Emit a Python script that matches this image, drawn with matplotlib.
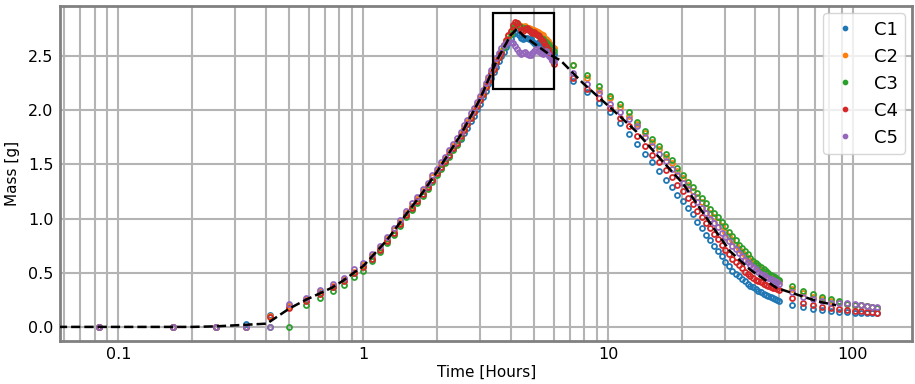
import matplotlib
matplotlib.use("Agg")
import matplotlib.pyplot as plt
from matplotlib.patches import Rectangle
from matplotlib.ticker import FuncFormatter

# sampling times: every 5 min for the first 6 h, then hourly, then ~6-hourly
minutes_early = [5, 10, 15, 20, 25, 30, 35, 40, 45, 50, 55, 60,
                 65, 70, 75, 80, 85, 90, 95, 100, 105, 110, 115, 120,
                 125, 130, 135, 140, 145, 150, 155, 160, 165, 170, 175, 180,
                 185, 190, 195, 200, 205, 210, 215, 220, 225, 230, 235, 240,
                 245, 250, 255, 260, 265, 270, 275, 280, 285, 290, 295, 300,
                 305, 310, 315, 320, 325, 330, 335, 340, 345, 350, 355, 360]
hours_mid = [7.2, 8.2, 9.2, 10.2, 11.2, 12.2, 13.2, 14.2, 15.2, 16.2, 17.2,
             18.2, 19.2, 20.2, 21.2, 22.2, 23.2, 24.2, 25.2, 26.2, 27.2, 28.2,
             29.2, 30.2, 31.2, 32.2, 33.2, 34.2, 35.2, 36.2, 37.2, 38.2, 39.2,
             40.2, 41.2, 42.2, 43.2, 44.2, 45.2, 46.2, 47.2, 48.2, 49.2, 50.2]
hours_late = [56.7, 62.7, 68.9, 75.2, 81.3, 87.7, 94.8, 101.9, 107.8, 114.1,
              120.0, 125.7]

time_h = [m / 60 for m in minutes_early] + hours_mid + hours_late

# mass [g] per sample, three parts each: first 6 h / hourly / late
c1 = ([0, 0, 0, 0.03, 0.11, 0.19, 0.25, 0.31, 0.37, 0.43, 0.50,
       0.56, 0.63, 0.71, 0.79, 0.87, 0.95, 1.03, 1.10, 1.16, 1.23, 1.29, 1.36,
       1.42, 1.47, 1.52, 1.58, 1.64, 1.69, 1.73, 1.79, 1.84, 1.90, 1.95, 2.01,
       2.06, 2.12, 2.18, 2.24, 2.30, 2.35, 2.40, 2.45, 2.50, 2.54, 2.58, 2.62,
       2.66, 2.70, 2.72, 2.71, 2.69, 2.67, 2.66, 2.67, 2.67, 2.66, 2.66, 2.64,
       2.62, 2.61, 2.62, 2.63, 2.62, 2.61, 2.60, 2.58, 2.57, 2.55, 2.54, 2.53,
       2.52]
      + [2.27, 2.17, 2.07, 1.98, 1.88, 1.78, 1.69, 1.60, 1.52, 1.44, 1.36,
         1.29, 1.22, 1.16, 1.10, 1.04, 0.97, 0.91, 0.85, 0.80, 0.75, 0.70,
         0.65, 0.60, 0.56, 0.52, 0.49, 0.47, 0.44, 0.42, 0.40, 0.38, 0.365,
         0.35, 0.335, 0.32, 0.305, 0.295, 0.285, 0.275, 0.265, 0.255, 0.245,
         0.24]
      + [0.203, 0.18, 0.166, 0.157, 0.147, 0.14, 0.135, 0.132, 0.13, 0.128,
         0.127, 0.125])

c2 = ([0, 0, 0, 0, 0.10, 0.19, 0.26, 0.33, 0.38, 0.44, 0.51,
       0.57, 0.65, 0.73, 0.81, 0.89, 0.97, 1.05, 1.12, 1.18, 1.25, 1.31, 1.38,
       1.44, 1.50, 1.55, 1.61, 1.67, 1.72, 1.78, 1.84, 1.89, 1.95, 2.00, 2.06,
       2.11, 2.17, 2.23, 2.29, 2.35, 2.40, 2.46, 2.51, 2.55, 2.60, 2.64, 2.68,
       2.72, 2.77, 2.79, 2.80, 2.79, 2.78, 2.77, 2.78, 2.76, 2.76, 2.75, 2.74,
       2.74, 2.73, 2.72, 2.71, 2.70, 2.69, 2.67, 2.66, 2.64, 2.62, 2.60, 2.58,
       2.57]
      + [2.42, 2.30, 2.19, 2.11, 2.03, 1.95, 1.87, 1.79, 1.71, 1.64, 1.57,
         1.51, 1.44, 1.37, 1.31, 1.25, 1.20, 1.15, 1.10, 1.05, 1.01, 0.97,
         0.93, 0.88, 0.84, 0.80, 0.76, 0.72, 0.69, 0.66, 0.63, 0.61, 0.59,
         0.57, 0.55, 0.53, 0.51, 0.50, 0.48, 0.47, 0.45, 0.44, 0.43, 0.42]
      + [0.35, 0.31, 0.28, 0.255, 0.24, 0.23, 0.215, 0.205, 0.198, 0.19,
         0.183, 0.177])

c3 = ([0, 0, 0, 0, 0, 0, 0.20, 0.27, 0.33, 0.39, 0.46,
       0.52, 0.61, 0.69, 0.77, 0.85, 0.93, 1.01, 1.08, 1.14, 1.21, 1.27, 1.34,
       1.40, 1.46, 1.51, 1.57, 1.63, 1.68, 1.74, 1.82, 1.87, 1.93, 1.98, 2.04,
       2.09, 2.15, 2.21, 2.27, 2.33, 2.38, 2.44, 2.49, 2.53, 2.58, 2.62, 2.66,
       2.70, 2.76, 2.79, 2.80, 2.78, 2.77, 2.76, 2.76, 2.75, 2.74, 2.73, 2.72,
       2.71, 2.70, 2.69, 2.68, 2.67, 2.66, 2.64, 2.63, 2.61, 2.59, 2.57, 2.56,
       2.55]
      + [2.42, 2.32, 2.22, 2.13, 2.06, 1.98, 1.89, 1.81, 1.73, 1.67, 1.60,
         1.54, 1.47, 1.40, 1.34, 1.29, 1.24, 1.19, 1.14, 1.09, 1.05, 1.01,
         0.97, 0.93, 0.88, 0.84, 0.80, 0.76, 0.73, 0.70, 0.67, 0.64, 0.61,
         0.59, 0.57, 0.55, 0.53, 0.52, 0.50, 0.48, 0.47, 0.46, 0.445, 0.43]
      + [0.38, 0.335, 0.30, 0.275, 0.255, 0.24, 0.215, 0.205, 0.198, 0.19,
         0.183, 0.177])

c4 = ([0, 0, 0, 0, 0.09, 0.17, 0.24, 0.30, 0.37, 0.42, 0.50,
       0.55, 0.63, 0.71, 0.79, 0.87, 0.95, 1.03, 1.10, 1.16, 1.23, 1.29, 1.36,
       1.42, 1.48, 1.53, 1.59, 1.65, 1.70, 1.76, 1.82, 1.87, 1.93, 1.98, 2.04,
       2.09, 2.15, 2.21, 2.27, 2.33, 2.38, 2.44, 2.49, 2.53, 2.60, 2.65, 2.69,
       2.73, 2.79, 2.81, 2.80, 2.78, 2.74, 2.73, 2.75, 2.76, 2.74, 2.72, 2.71,
       2.72, 2.70, 2.69, 2.68, 2.66, 2.64, 2.62, 2.59, 2.56, 2.53, 2.50, 2.46,
       2.43]
      + [2.30, 2.20, 2.11, 2.02, 1.93, 1.85, 1.76, 1.67, 1.59, 1.52, 1.45,
         1.38, 1.31, 1.25, 1.19, 1.13, 1.07, 1.01, 0.96, 0.91, 0.86, 0.81,
         0.76, 0.71, 0.67, 0.63, 0.60, 0.57, 0.54, 0.51, 0.49, 0.47, 0.45,
         0.43, 0.42, 0.41, 0.40, 0.39, 0.38, 0.37, 0.36, 0.355, 0.35, 0.34]
      + [0.265, 0.224, 0.203, 0.18, 0.17, 0.163, 0.157, 0.15, 0.147, 0.14,
         0.138, 0.132])

c5 = ([0, 0, 0, 0, 0, 0.21, 0.27, 0.34, 0.40, 0.45, 0.53,
       0.59, 0.67, 0.75, 0.83, 0.91, 0.99, 1.07, 1.14, 1.20, 1.27, 1.33, 1.40,
       1.46, 1.52, 1.57, 1.63, 1.69, 1.74, 1.80, 1.86, 1.91, 1.97, 2.02, 2.08,
       2.13, 2.19, 2.25, 2.31, 2.37, 2.42, 2.48, 2.53, 2.57, 2.60, 2.62, 2.63,
       2.63, 2.62, 2.59, 2.56, 2.54, 2.52, 2.53, 2.54, 2.52, 2.51, 2.51, 2.53,
       2.55, 2.56, 2.55, 2.56, 2.53, 2.52, 2.54, 2.55, 2.52, 2.50, 2.48, 2.46,
       2.45]
      + [2.34, 2.24, 2.16, 2.06, 1.98, 1.92, 1.85, 1.75, 1.67, 1.60, 1.53,
         1.46, 1.40, 1.33, 1.27, 1.21, 1.15, 1.10, 1.05, 1.00, 0.96, 0.92,
         0.87, 0.83, 0.79, 0.75, 0.72, 0.68, 0.65, 0.62, 0.60, 0.57, 0.55,
         0.53, 0.51, 0.49, 0.48, 0.46, 0.45, 0.44, 0.43, 0.42, 0.41, 0.40]
      + [0.32, 0.28, 0.255, 0.235, 0.225, 0.22, 0.219, 0.21, 0.203, 0.197,
         0.187, 0.18])

# dashed reference curve
fit_t = [0.05, 0.2, 0.25, 0.333, 0.404, 0.423, 0.5, 0.583, 0.667, 0.75,
         0.833, 0.917, 1.0, 1.25, 1.5, 1.75, 2.0, 2.5, 3.0, 3.5, 4.0, 4.24,
         4.5, 5.1, 5.8, 6.4, 7.9, 10.5, 13.1, 15.8, 20.3, 26.1, 31.5, 38.0,
         48.8, 62.7, 72.0, 85.5]
fit_m = [0.0, 0.0, 0.005, 0.02, 0.03, 0.06, 0.17, 0.25, 0.31, 0.365,
         0.43, 0.50, 0.56, 0.80, 1.04, 1.24, 1.43, 1.77, 2.10, 2.45, 2.69, 2.75,
         2.69, 2.60, 2.51, 2.46, 2.25, 2.00, 1.80, 1.59, 1.32, 0.96, 0.70, 0.53,
         0.36, 0.28, 0.235, 0.20]

series = {"C1": c1, "C2": c2, "C3": c3, "C4": c4, "C5": c5}
colors = ["#1f77b4", "#ff7f0e", "#2ca02c", "#d62728", "#9467bd"]

# zoom box around the peak (hours, grams)
box_t0, box_t1 = 3.4, 6.0
box_m0, box_m1 = 2.2, 2.9

fig, ax = plt.subplots(figsize=(9.15, 3.84), dpi=100)
fig.subplots_adjust(left=0.066, right=0.997, bottom=0.112, top=0.984)

for (name, vals), col in zip(series.items(), colors):
    ax.plot(time_h, vals, "o", ms=3.6, mfc="none", mec=col, mew=1.3,
            label=name, zorder=3)

ax.plot(fit_t, fit_m, "k--", lw=1.8, zorder=4)
ax.add_patch(Rectangle((box_t0, box_m0), box_t1 - box_t0, box_m1 - box_m0,
                       fill=False, ec="black", lw=1.6, zorder=5))

ax.set_xscale("log")
ax.set_xlim(0.058, 175)
ax.set_ylim(-0.13, 2.96)
ax.set_yticks([0.0, 0.5, 1.0, 1.5, 2.0, 2.5])
ax.yaxis.set_major_formatter(FuncFormatter(lambda v, p: f"{v:.1f}"))
ax.xaxis.set_major_formatter(FuncFormatter(lambda v, p: f"{v:g}"))
ax.xaxis.set_minor_formatter(FuncFormatter(lambda v, p: ""))

ax.grid(True, which="both", axis="x", color="#b4b4b4", lw=1.5)
ax.grid(True, which="major", axis="y", color="#b4b4b4", lw=1.5)
ax.set_axisbelow(True)
ax.tick_params(which="both", length=0, labelsize=11.5)
ax.tick_params(axis="x", pad=4)
ax.tick_params(axis="y", pad=5)
for sp in ax.spines.values():
    sp.set_color("#808080")
    sp.set_linewidth(2)

ax.set_xlabel("Time [Hours]", fontsize=11, labelpad=2)
ax.set_ylabel("Mass [g]", fontsize=11, labelpad=6)
leg = ax.legend(loc="upper right", fontsize=13, handlelength=1.6,
                borderaxespad=0.4)
# small solid dots in the legend
for h in leg.legend_handles:
    h.set_markerfacecolor(h.get_markeredgecolor())
    h.set_markersize(2.8)

fig.savefig("out.png")
